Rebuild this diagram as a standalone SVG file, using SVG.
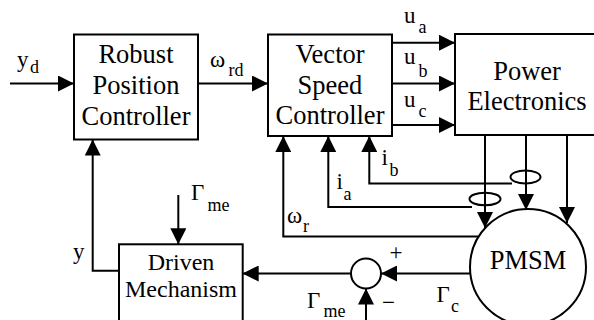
<svg xmlns="http://www.w3.org/2000/svg" width="594" height="320" viewBox="0 0 594 320">
<style>
.box{fill:#fff;stroke:#000;stroke-width:2}
.ln{fill:none;stroke:#000;stroke-width:2}
.bt{font-family:"Liberation Serif","Times New Roman",serif;font-size:26.5px;fill:#000;text-anchor:middle}
.bt2{font-family:"Liberation Serif","Times New Roman",serif;font-size:24px;fill:#000;text-anchor:middle}
.lb{font-family:"Liberation Serif","Times New Roman",serif;font-size:23px;fill:#000}
.sb{font-size:18px}
</style>
<defs>
<marker id="ar" markerUnits="userSpaceOnUse" markerWidth="16" markerHeight="16" refX="14" refY="7" orient="auto" viewBox="0 0 14 14">
<path d="M0,0 L14,7 L0,14 Z" fill="#000"/>
</marker>
</defs>
<g id="robust">
<rect class="box" x="74" y="34.5" width="124" height="105"/>
<text class="bt" x="136" y="63">Robust</text>
<text class="bt" x="136" y="94">Position</text>
<text class="bt" x="136" y="125">Controller</text>
</g>
<g id="vector">
<rect class="box" x="268" y="34.5" width="124" height="101.5"/>
<text class="bt" x="330" y="63">Vector</text>
<text class="bt" x="330" y="93.5">Speed</text>
<text class="bt" x="330" y="123.5">Controller</text>
</g>
<g id="power">
<rect class="box" x="455" y="34" width="160" height="101"/>
<text class="bt" x="527" y="79.5">Power</text>
<text class="bt" x="527" y="110">Electronics</text>
</g>
<g id="pmsm">
<circle class="box" cx="528" cy="267" r="58"/>
<text class="bt" x="528" y="268.5">PMSM</text>
</g>
<g id="driven">
<rect class="box" x="119" y="244.3" width="123.7" height="100"/>
<text class="bt2" x="181" y="269.5">Driven</text>
<text class="bt2" x="181" y="296.7">Mechanism</text>
</g>
<g id="sum">
<circle class="box" cx="366" cy="273.5" r="15"/>
</g>
<g id="sensors">
<ellipse class="ln" cx="525.5" cy="177" rx="15" ry="6.5"/>
<ellipse class="ln" cx="485" cy="199" rx="15.5" ry="6.3"/>
</g>
<g id="connectors">
<line class="ln" x1="10" y1="83.5" x2="74" y2="83.5" marker-end="url(#ar)"/>
<line class="ln" x1="198" y1="83.5" x2="268" y2="83.5" marker-end="url(#ar)"/>
<line class="ln" x1="392" y1="42.7" x2="455" y2="42.7" marker-end="url(#ar)"/>
<line class="ln" x1="392" y1="83.5" x2="455" y2="83.5" marker-end="url(#ar)"/>
<line class="ln" x1="392" y1="125" x2="455" y2="125" marker-end="url(#ar)"/>
<line class="ln" x1="485" y1="135" x2="485" y2="228" marker-end="url(#ar)"/>
<line class="ln" x1="526" y1="135" x2="526" y2="210" marker-end="url(#ar)"/>
<line class="ln" x1="567" y1="135" x2="567" y2="223" marker-end="url(#ar)"/>
<polyline class="ln" points="512,183.5 369.3,183.5 369.3,136" marker-end="url(#ar)"/>
<polyline class="ln" points="472,207 328.3,207 328.3,136" marker-end="url(#ar)"/>
<polyline class="ln" points="478.5,236.5 283.3,236.5 283.3,136" marker-end="url(#ar)"/>
<line class="ln" x1="470" y1="273.5" x2="381" y2="273.5" marker-end="url(#ar)"/>
<line class="ln" x1="351" y1="273.5" x2="242.7" y2="273.5" marker-end="url(#ar)"/>
<line class="ln" x1="366" y1="322" x2="366" y2="288.5" marker-end="url(#ar)"/>
<line class="ln" x1="178.3" y1="195" x2="178.3" y2="244.3" marker-end="url(#ar)"/>
<polyline class="ln" points="119,270.7 92.7,270.7 92.7,139.5" marker-end="url(#ar)"/>
</g>
<g id="labels">
<text class="lb" x="17" y="67">y<tspan class="sb" x="30" y="72.5">d</tspan></text>
<text class="lb" x="210" y="66.5">ω<tspan class="sb" x="228.5" y="76">rd</tspan></text>
<text class="lb" x="404" y="23.3">u<tspan class="sb" x="418.5" y="33">a</tspan></text>
<text class="lb" x="404" y="63.5">u<tspan class="sb" x="418.5" y="76.5">b</tspan></text>
<text class="lb" x="404" y="106.5">u<tspan class="sb" x="418.5" y="116.5">c</tspan></text>
<text class="lb" x="381.5" y="165">i<tspan class="sb" x="389.5" y="175.5">b</tspan></text>
<text class="lb" x="336.5" y="188.5">i<tspan class="sb" x="343.5" y="199.5">a</tspan></text>
<text class="lb" x="287" y="223">ω<tspan class="sb" x="303" y="231.5">r</tspan></text>
<text class="lb" x="191" y="200">Γ<tspan class="sb" x="207.5" y="210.5">me</tspan></text>
<text class="lb" x="73" y="258.5">y</text>
<text class="lb" x="307" y="307.5">Γ<tspan class="sb" x="323.5" y="317">me</tspan></text>
<text class="lb" x="436.5" y="301.5">Γ<tspan class="sb" x="451" y="311.5">c</tspan></text>
<text class="lb" x="396" y="259.5" text-anchor="middle">+</text>
<text class="lb" x="388.5" y="310" text-anchor="middle">−</text>
</g>
</svg>
